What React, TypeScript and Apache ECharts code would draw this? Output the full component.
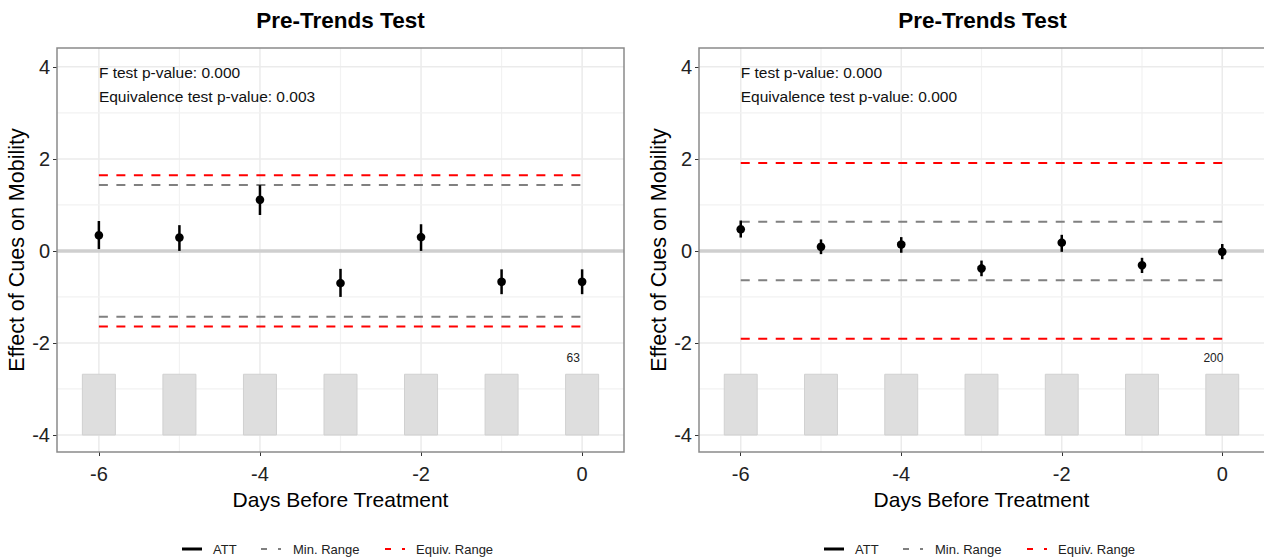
import React, { useEffect, useRef } from "react";
import * as echarts from "echarts";

// ---------- data ----------
const days = [-6, -5, -4, -3, -2, -1, 0];

const leftEst = [0.34, 0.29, 1.11, -0.7, 0.3, -0.67, -0.67];
const leftLower = [0.04, 0.0, 0.78, -1.0, 0.0, -0.94, -0.94];
const leftUpper = [0.65, 0.56, 1.43, -0.39, 0.58, -0.4, -0.4];
const leftCounts = [63, 63, 63, 63, 63, 63, 63];
const leftMinRange = 1.43;
const leftEquivRange = 1.645;
const leftFText = "F test p-value: 0.000";
const leftEqText = "Equivalence test p-value: 0.003";

const rightEst = [0.47, 0.09, 0.14, -0.38, 0.18, -0.31, -0.02];
const rightLower = [0.29, -0.07, -0.04, -0.55, -0.02, -0.48, -0.18];
const rightUpper = [0.66, 0.25, 0.3, -0.21, 0.35, -0.15, 0.15];
const rightCounts = [200, 200, 200, 200, 200, 200, 200];
const rightMinRange = 0.635;
const rightEquivRange = 1.91;
const rightFText = "F test p-value: 0.000";
const rightEqText = "Equivalence test p-value: 0.000";

const xTicks = [-6, -4, -2, 0];
const xMinor = [-5, -3, -1];
const yTicks = [-4, -2, 0, 2, 4];
const yMinor = [-3, -1, 1, 3];

const titleText = "Pre-Trends Test";
const xName = "Days Before Treatment";
const yName = "Effect of Cues on Mobility";
const legendNames = ["ATT", "Min. Range", "Equiv. Range"];

// count-bar band in y-units
const barBase = -4;
const barBandHeight = 1.32;
const barHalfWidth = 0.205;
const countLabelY = -2.33;
const countLabelDx = -0.11;
const textX = -6;
const textY1 = 3.87;
const textY2 = 3.35;

// ---------- layout ----------
const FONT = "'Liberation Sans', Arial, Helvetica, sans-serif";
const grids = [
  { left: 57, top: 48, width: 567, height: 404 },
  { left: 699, top: 48, width: 567, height: 404 },
];

function buildPanel(
  idx: number,
  est: number[],
  lower: number[],
  upper: number[],
  counts: number[],
  minR: number,
  eqR: number,
  fText: string,
  eqText: string
) {
  const series: any[] = [];
  // grid lines: [x, y, orientation(0 vertical / 1 horizontal), major]
  const gl: any[] = [];
  xTicks.forEach((v) => gl.push([v, 0, 0, 1]));
  xMinor.forEach((v) => gl.push([v, 0, 0, 0]));
  yTicks.forEach((v) => gl.push([-3, v, 1, 1]));
  yMinor.forEach((v) => gl.push([-3, v, 1, 0]));
  series.push({
    type: "custom",
    xAxisIndex: idx,
    yAxisIndex: idx,
    z: 1,
    silent: true,
    data: gl,
    renderItem: (params: any, api: any) => {
      const cs = params.coordSys;
      const p = api.coord([api.value(0), api.value(1)]);
      const horiz = api.value(2) === 1;
      const major = api.value(3) === 1;
      const style = { stroke: major ? "#EBEBEB" : "#F2F2F2", lineWidth: major ? 1.5 : 1.2 };
      if (!horiz) {
        return { type: "line", shape: { x1: p[0], y1: cs.y, x2: p[0], y2: cs.y + cs.height }, style };
      }
      return { type: "line", shape: { x1: cs.x, y1: p[1], x2: cs.x + cs.width, y2: p[1] }, style };
    },
  });
  // zero reference line
  series.push({
    type: "custom",
    xAxisIndex: idx,
    yAxisIndex: idx,
    z: 2,
    silent: true,
    data: [[-3, 0]],
    renderItem: (params: any, api: any) => {
      const cs = params.coordSys;
      const y = api.coord([api.value(0), api.value(1)])[1];
      return {
        type: "line",
        shape: { x1: cs.x, y1: y, x2: cs.x + cs.width, y2: y },
        style: { stroke: "#CFCFCF", lineWidth: 3.5 },
      };
    },
  });
  // count bars: [day, base, count, labelFlag]
  const maxCount = Math.max(...counts);
  series.push({
    type: "custom",
    xAxisIndex: idx,
    yAxisIndex: idx,
    z: 2,
    silent: true,
    data: days.map((d, i) => [d, barBase, counts[i], i === days.length - 1 ? 1 : 0]),
    renderItem: (params: any, api: any) => {
      const d = api.value(0);
      const base = api.value(1);
      const c = api.value(2);
      const top = base + (c / maxCount) * barBandHeight;
      const p1 = api.coord([d - barHalfWidth, top]);
      const p2 = api.coord([d + barHalfWidth, base]);
      const children: any[] = [
        {
          type: "rect",
          shape: { x: p1[0], y: p1[1], width: p2[0] - p1[0], height: p2[1] - p1[1] },
          style: { fill: "#DEDEDE", stroke: "#D0D0D0", lineWidth: 1 },
        },
      ];
      if (api.value(3) === 1) {
        const lp = api.coord([d + countLabelDx, countLabelY]);
        children.push({
          type: "text",
          x: lp[0],
          y: lp[1],
          style: {
            text: String(c),
            fontSize: 12,
            fontFamily: FONT,
            fill: "#222",
            align: "center",
            verticalAlign: "middle",
          },
        });
      }
      return { type: "group", children };
    },
  });
  // range lines
  const rangeLine = (name: string, val: number, color: string) => ({
    type: "line",
    name,
    xAxisIndex: idx,
    yAxisIndex: idx,
    z: 3,
    silent: true,
    symbol: "none",
    showSymbol: false,
    data: [
      [days[0], val],
      [days[days.length - 1], val],
    ],
    lineStyle: { color, width: 2, type: [9, 8.5] },
  });
  series.push(rangeLine("Min. Range", minR, "#808080"));
  series.push(rangeLine("Min. Range", -minR, "#808080"));
  series.push(rangeLine("Equiv. Range", eqR, "#FF0000"));
  series.push(rangeLine("Equiv. Range", -eqR, "#FF0000"));
  // ATT point estimates with CI
  series.push({
    type: "custom",
    name: "ATT",
    xAxisIndex: idx,
    yAxisIndex: idx,
    z: 4,
    data: days.map((d, i) => [d, est[i], lower[i], upper[i]]),
    renderItem: (params: any, api: any) => {
      const d = api.value(0);
      const pe = api.coord([d, api.value(1)]);
      const lo = api.coord([d, api.value(2)]);
      const hi = api.coord([d, api.value(3)]);
      return {
        type: "group",
        children: [
          {
            type: "line",
            shape: { x1: lo[0], y1: lo[1], x2: hi[0], y2: hi[1] },
            style: { stroke: "#000", lineWidth: 2.5 },
          },
          { type: "circle", shape: { cx: pe[0], cy: pe[1], r: 4.3 }, style: { fill: "#000" } },
        ],
      };
    },
  });
  // annotation texts
  series.push({
    type: "custom",
    xAxisIndex: idx,
    yAxisIndex: idx,
    z: 5,
    silent: true,
    data: [
      [textX, textY1, 0],
      [textX, textY2, 1],
    ],
    renderItem: (params: any, api: any) => {
      const p = api.coord([api.value(0), api.value(1)]);
      return {
        type: "text",
        x: p[0],
        y: p[1],
        style: {
          text: api.value(2) === 0 ? fText : eqText,
          fontSize: 15.5,
          fontFamily: FONT,
          fill: "#111",
          align: "left",
          verticalAlign: "middle",
        },
      };
    },
  });
  return series;
}

function makeAxes(idx: number) {
  const x = {
    type: "value",
    gridIndex: idx,
    min: -6.52,
    max: 0.52,
    name: xName,
    nameLocation: "middle",
    nameGap: 37,
    nameTextStyle: { fontSize: 21, fontFamily: FONT, color: "#000" },
    axisLine: { show: false, onZero: false },
    axisTick: { show: true, customValues: xTicks, length: 4, lineStyle: { color: "#333", width: 1 } },
    axisLabel: {
      customValues: xTicks,
      fontSize: 20,
      fontFamily: FONT,
      color: "#222",
      margin: 12,
      formatter: (v: number) => String(v),
    },
    splitLine: { show: false },
    minorTick: { show: false },
  };
  const y = {
    type: "value",
    gridIndex: idx,
    min: -4.37,
    max: 4.41,
    name: yName,
    nameLocation: "middle",
    nameGap: 28,
    nameTextStyle: { fontSize: 21.5, fontFamily: FONT, color: "#000" },
    axisLine: { show: false, onZero: false },
    axisTick: { show: true, customValues: yTicks, length: 4, lineStyle: { color: "#333", width: 1 } },
    axisLabel: {
      customValues: yTicks,
      fontSize: 20,
      fontFamily: FONT,
      color: "#222",
      margin: 7,
      formatter: (v: number) => String(v),
    },
    splitLine: { show: false },
    minorTick: { show: false },
  };
  return { x, y };
}

function legendGraphic(offset: number) {
  const cy = 549;
  const txt = (x: number, t: string) => ({
    type: "text",
    x: x + offset,
    y: cy,
    style: { text: t, fontSize: 13, fontFamily: FONT, fill: "#222", verticalAlign: "middle", align: "left" },
  });
  const seg = (x1: number, x2: number, color: string, w: number) => ({
    type: "line",
    shape: { x1: x1 + offset, y1: cy, x2: x2 + offset, y2: cy },
    style: { stroke: color, lineWidth: w },
  });
  return [
    seg(182, 202, "#000", 3),
    txt(213, legendNames[0]),
    seg(261, 267, "#808080", 2),
    seg(278, 281, "#808080", 2),
    txt(293, legendNames[1]),
    seg(385, 391, "#FF0000", 2),
    seg(402, 405, "#FF0000", 2),
    txt(416, legendNames[2]),
  ];
}

export default function App() {
  const ref = useRef<HTMLDivElement>(null);
  useEffect(() => {
    document.body.style.margin = "0";
    document.body.style.padding = "0";
    if (!ref.current) return;
    const chart = echarts.init(ref.current, null, { renderer: "svg" });
    const a0 = makeAxes(0);
    const a1 = makeAxes(1);
    const option: any = {
      animation: false,
      backgroundColor: "#fff",
      tooltip: { show: false },
      grid: grids.map((g) => ({ ...g, show: true, backgroundColor: "#fff", borderWidth: 0 })),
      xAxis: [a0.x, a1.x],
      yAxis: [a0.y, a1.y],
      series: [
        ...buildPanel(0, leftEst, leftLower, leftUpper, leftCounts, leftMinRange, leftEquivRange, leftFText, leftEqText),
        ...buildPanel(1, rightEst, rightLower, rightUpper, rightCounts, rightMinRange, rightEquivRange, rightFText, rightEqText),
      ],
      graphic: [
        ...grids.map((g) => ({
          type: "rect",
          z: 100,
          silent: true,
          shape: { x: g.left, y: g.top, width: g.width, height: g.height },
          style: { fill: "none", stroke: "#8A8A8A", lineWidth: 1.5 },
        })),
        ...grids.map((g) => ({
          type: "text",
          x: g.left + g.width / 2,
          y: 20,
          style: {
            text: titleText,
            fontSize: 22.5,
            fontWeight: "bold",
            fontFamily: FONT,
            fill: "#000",
            align: "center",
            verticalAlign: "middle",
          },
        })),
        ...legendGraphic(0),
        ...legendGraphic(642),
      ],
    };
    chart.setOption(option);
    return () => chart.dispose();
  }, []);
  return (
    <div
      ref={ref}
      style={{ position: "absolute", left: 0, top: 0, width: 1264, height: 558, background: "#fff" }}
    />
  );
}
